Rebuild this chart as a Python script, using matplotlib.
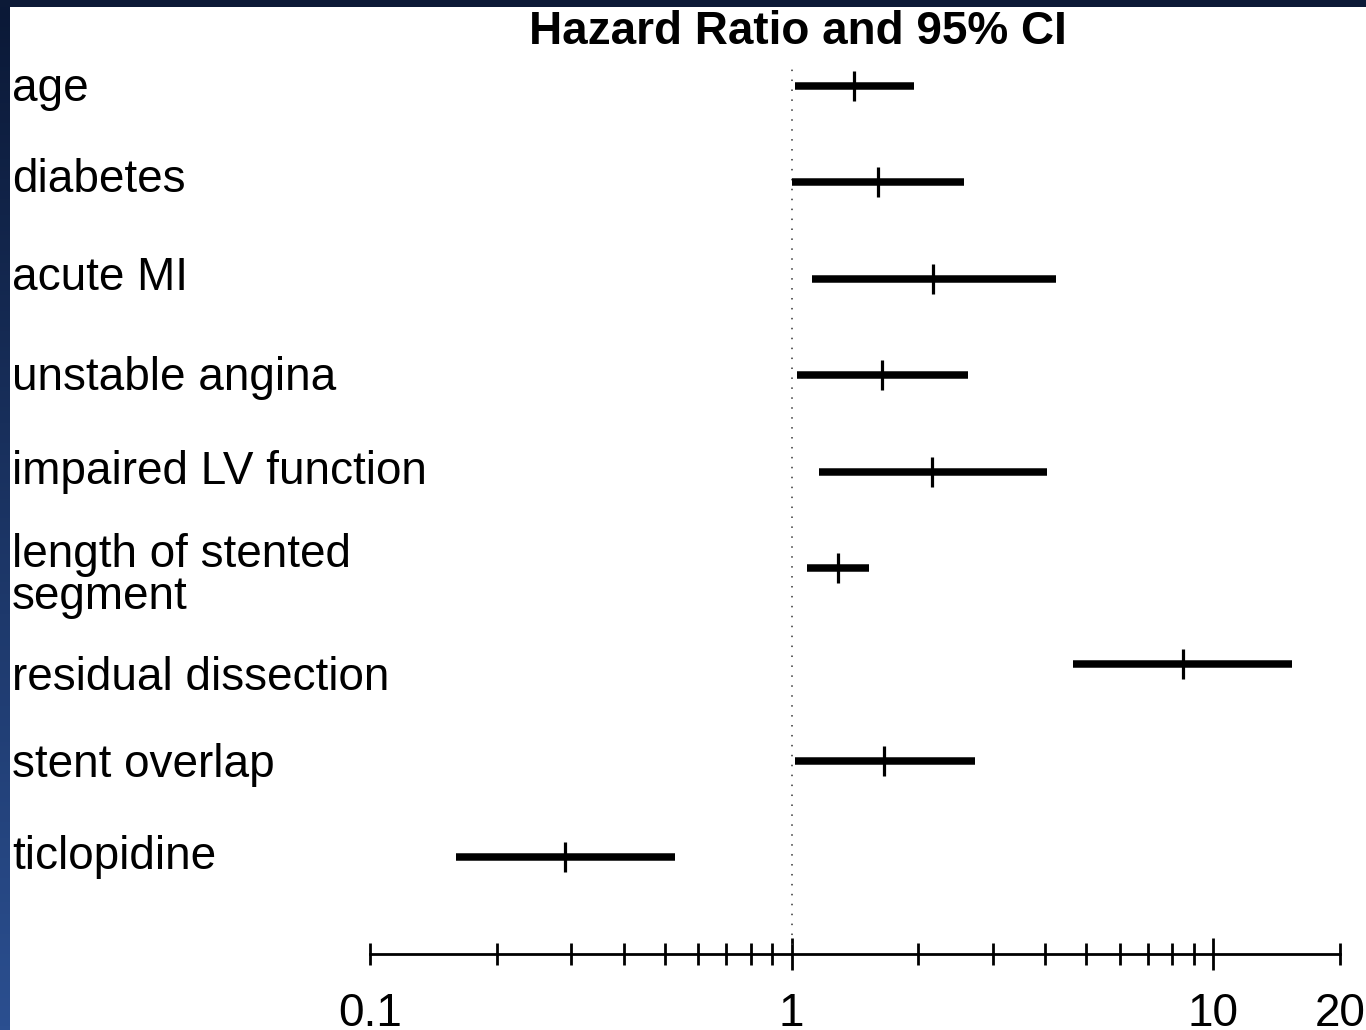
import numpy as np
import matplotlib
matplotlib.use("Agg")
import matplotlib.pyplot as plt
from matplotlib.patches import Rectangle
from matplotlib.colors import LinearSegmentedColormap
from matplotlib.ticker import FixedLocator, FixedFormatter

# ---- data ----
categories = ["age", "diabetes", "acute MI", "unstable angina",
              "impaired LV function", "length of stented\nsegment",
              "residual dissection", "stent overlap", "ticlopidine"]
hazard_ratio = [1.41, 1.60, 2.16, 1.64, 2.15, 1.29, 8.47, 1.66, 0.29]
ci_low = [1.02, 1.00, 1.12, 1.03, 1.16, 1.09, 4.64, 1.02, 0.160]
ci_high = [1.95, 2.57, 4.23, 2.62, 4.03, 1.53, 15.4, 2.72, 0.528]
major_ticks = [1, 10]
major_labels = ["1", "10"]
minor_ticks = [0.1, 0.2, 0.3, 0.4, 0.5, 0.6, 0.7, 0.8, 0.9,
               2, 3, 4, 5, 6, 7, 8, 9, 20]
minor_labels = ["0.1"] + [""] * 16 + ["20"]
title = "Hazard Ratio and 95% CI"

# label baselines (pixels from top, last line for multi-line) -- layout
label_baseline_px = [101, 192, 290, 390, 484, 609, 690, 777, 869]

W, H = 1366, 1030
FONT = "Liberation Sans"
plt.rcParams["font.family"] = [FONT, "DejaVu Sans"]

fig = plt.figure(figsize=(W / 100, H / 100), dpi=100)
fig.patch.set_facecolor("#0c1a37")

# white slide area
fig.patches.append(Rectangle((10 / W, 0), 1 - 10 / W, 1 - 7 / H,
                             transform=fig.transFigure, facecolor="white",
                             edgecolor="none", zorder=-5))
# left gradient strip
gax = fig.add_axes([0, 0, 10 / W, 1 - 7 / H])
grad = np.linspace(0, 1, 256).reshape(-1, 1)
cmap = LinearSegmentedColormap.from_list("g", ["#0b1937", "#2b4f90"])
gax.imshow(grad, aspect="auto", cmap=cmap)
gax.axis("off")

# main axes: x from 0.1 (px 370) to 20 (px 1340); axis line at px 954
row0_px, row_step = 86, 96.4
ax_left, ax_right = 370 / W, 1340 / W
ax_top_px, ax_bot_px = 10, 954
ax_h_px = ax_bot_px - ax_top_px
ax = fig.add_axes([ax_left, 1 - ax_bot_px / H, ax_right - ax_left,
                   ax_h_px / H])
ax.set_zorder(2)
ax.set_facecolor("none")
ax.set_xscale("log")
ax.set_xlim(0.1, 20)
y = np.arange(len(categories))
ax.set_ylim((ax_bot_px - row0_px) / row_step, (ax_top_px - row0_px) / row_step)

# reference line at HR = 1 (from just below the title to the axis ticks)
ax.axvline(1, ymin=(ax_bot_px - 945) / ax_h_px,
           ymax=(ax_bot_px - 62) / ax_h_px,
           color="#333333", lw=1.1, linestyle=(0, (1, 5.5)))
ax.hlines(y, ci_low, ci_high, color="black", lw=5.4)
ax.plot(hazard_ratio, y, ls="none", marker="|", ms=21.5, mew=2.3,
        color="black")

for s in ["top", "left", "right"]:
    ax.spines[s].set_visible(False)
ax.spines["bottom"].set_linewidth(2.0)
ax.yaxis.set_visible(False)

ax.xaxis.set_major_locator(FixedLocator(major_ticks))
ax.xaxis.set_major_formatter(FixedFormatter(major_labels))
ax.xaxis.set_minor_locator(FixedLocator(minor_ticks))
ax.xaxis.set_minor_formatter(FixedFormatter(minor_labels))
ax.tick_params(axis="x", which="major", direction="inout", length=23,
               width=2.0, pad=15.5, labelsize=33)
ax.tick_params(axis="x", which="minor", direction="inout", length=15.5,
               width=2.0, pad=19.25, labelsize=33)

fig.text(798 / W, 1 - 44 / H, title, ha="center", va="baseline",
         fontsize=33, fontweight="bold")

for lab, b in zip(categories, label_baseline_px):
    fig.text(12 / W, 1 - b / H, lab, ha="left", va="baseline",
             fontsize=33, linespacing=0.95)

fig.savefig("out.png", dpi=100, facecolor=fig.get_facecolor())
